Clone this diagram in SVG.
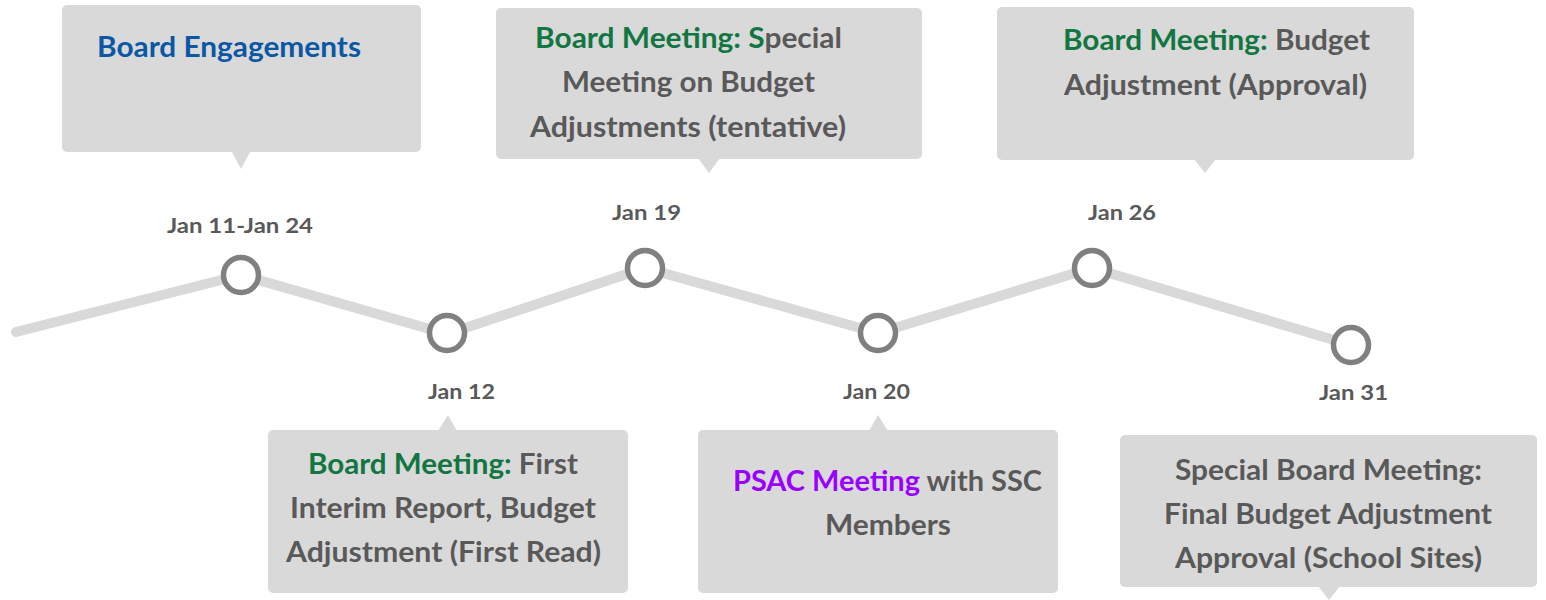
<svg xmlns="http://www.w3.org/2000/svg" width="1546" height="600" viewBox="0 0 1546 600">
  <style>
    .box { fill: #D9D9D9; }
    .txt { font-family: Lato, "Open Sans", "Liberation Sans", sans-serif; font-weight: 700; font-size: 28px; fill: #595959; }
    .date { font-family: Lato, "Open Sans", "Liberation Sans", sans-serif; font-weight: 700; font-size: 21px; fill: #595959; }
    .green { fill: #117641; }
    .blue { fill: #0B57A4; }
    .purple { fill: #9900FF; }
    .track { fill: none; stroke: #D9D9D9; stroke-width: 10; stroke-linecap: round; stroke-linejoin: round; }
    .dot { fill: #FFFFFF; stroke: #808080; stroke-width: 5.5; }
  </style>
  <rect width="1546" height="600" fill="#FFFFFF"/>

  <!-- timeline track -->
  <g id="connectors">
    <polyline class="track" points="16,332 241,275 447,334 645,268 878,333 1092,268 1351,345"/>
  </g>

  <!-- timeline points with date labels -->
  <g id="point-jan11">
    <circle class="dot" cx="241" cy="275" r="17.5"/>
    <text class="date" x="167" y="233" textLength="146" lengthAdjust="spacingAndGlyphs">Jan 11-Jan 24</text>
  </g>
  <g id="point-jan12">
    <circle class="dot" cx="447" cy="333" r="17.5"/>
    <text class="date" x="428" y="399" textLength="67" lengthAdjust="spacingAndGlyphs">Jan 12</text>
  </g>
  <g id="point-jan19">
    <circle class="dot" cx="645" cy="268" r="17.5"/>
    <text class="date" x="612" y="220" textLength="69" lengthAdjust="spacingAndGlyphs">Jan 19</text>
  </g>
  <g id="point-jan20">
    <circle class="dot" cx="878" cy="333" r="17.5"/>
    <text class="date" x="843" y="399" textLength="67" lengthAdjust="spacingAndGlyphs">Jan 20</text>
  </g>
  <g id="point-jan26">
    <circle class="dot" cx="1092" cy="268" r="17.5"/>
    <text class="date" x="1088" y="220" textLength="68" lengthAdjust="spacingAndGlyphs">Jan 26</text>
  </g>
  <g id="point-jan31">
    <circle class="dot" cx="1351" cy="345" r="17.5"/>
    <text class="date" x="1319" y="400" textLength="69" lengthAdjust="spacingAndGlyphs">Jan 31</text>
  </g>

  <!-- callouts above the track -->
  <g id="board-engagements">
    <rect class="box" x="62" y="5" width="359" height="147" rx="5"/>
    <polygon class="box" points="232,152 250,152 241,169"/>
    <text class="txt blue" x="97" y="57" textLength="264" lengthAdjust="spacingAndGlyphs">Board Engagements</text>
  </g>

  <g id="special-meeting-jan19">
    <rect class="box" x="496" y="8" width="426" height="151" rx="5"/>
    <polygon class="box" points="698,158 720,158 709,173"/>
    <text class="txt" x="535" y="48" textLength="307" lengthAdjust="spacingAndGlyphs"><tspan class="green">Board Meeting: S</tspan>pecial</text>
    <text class="txt" x="562" y="92" textLength="253" lengthAdjust="spacingAndGlyphs">Meeting on Budget</text>
    <text class="txt" x="530" y="137" textLength="316" lengthAdjust="spacingAndGlyphs">Adjustments (tentative)</text>
  </g>

  <g id="board-meeting-jan26">
    <rect class="box" x="997" y="7" width="417" height="153" rx="5"/>
    <polygon class="box" points="1194,159 1216,159 1205,173"/>
    <text class="txt" x="1063" y="50" textLength="307" lengthAdjust="spacingAndGlyphs"><tspan class="green">Board Meeting:</tspan> Budget</text>
    <text class="txt" x="1064" y="95" textLength="303" lengthAdjust="spacingAndGlyphs">Adjustment (Approval)</text>
  </g>

  <!-- callouts below the track -->
  <g id="board-meeting-jan12">
    <rect class="box" x="268" y="430" width="360" height="163" rx="5"/>
    <polygon class="box" points="438,431 457,431 448,415"/>
    <text class="txt" x="308" y="474" textLength="270" lengthAdjust="spacingAndGlyphs"><tspan class="green">Board Meeting:</tspan> First</text>
    <text class="txt" x="290" y="518" textLength="306" lengthAdjust="spacingAndGlyphs">Interim Report, Budget</text>
    <text class="txt" x="286" y="562" textLength="315" lengthAdjust="spacingAndGlyphs">Adjustment (First Read)</text>
  </g>

  <g id="psac-meeting-jan20">
    <rect class="box" x="698" y="430" width="360" height="163" rx="5"/>
    <polygon class="box" points="869,431 888,431 878,415"/>
    <text class="txt" x="733" y="491" textLength="309" lengthAdjust="spacingAndGlyphs"><tspan class="purple">PSAC Meeting</tspan> with SSC</text>
    <text class="txt" x="825" y="535" textLength="126" lengthAdjust="spacingAndGlyphs">Members</text>
  </g>

  <g id="special-board-meeting-jan31">
    <rect class="box" x="1120" y="435" width="417" height="152" rx="5"/>
    <polygon class="box" points="1318,586 1340,586 1329,600"/>
    <text class="txt" x="1175" y="480" textLength="307" lengthAdjust="spacingAndGlyphs">Special Board Meeting:</text>
    <text class="txt" x="1164" y="524" textLength="328" lengthAdjust="spacingAndGlyphs">Final Budget Adjustment</text>
    <text class="txt" x="1175" y="568" textLength="307" lengthAdjust="spacingAndGlyphs">Approval (School Sites)</text>
  </g>
</svg>
